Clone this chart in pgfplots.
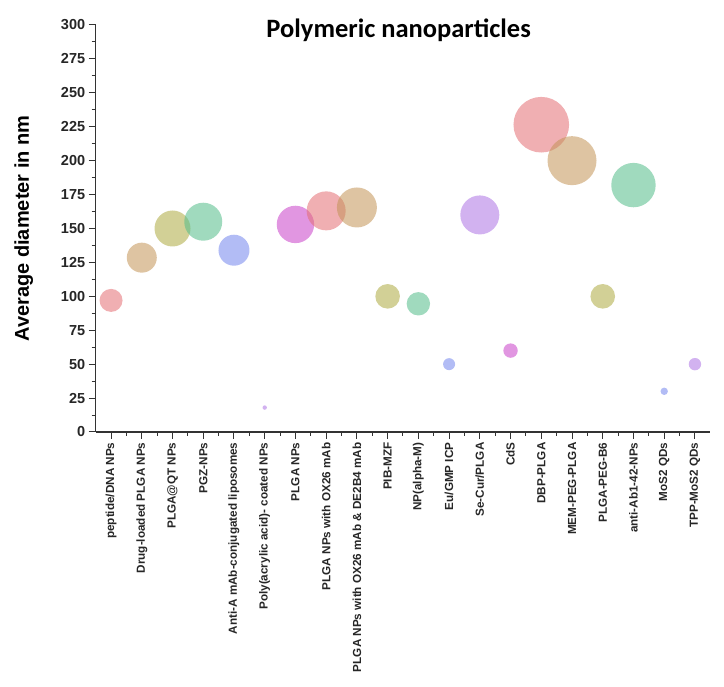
\documentclass[border=0pt]{standalone}
\usepackage{pgfplots}
\pgfplotsset{compat=1.18}
\usepackage{fontspec}
\setmainfont{Liberation Sans}
\newfontfamily\titlefont{Carlito}
\definecolor{bred}{RGB}{228,109,115}
\definecolor{btan}{RGB}{195,148,86}
\definecolor{bolive}{RGB}{173,170,64}
\definecolor{bgreen}{RGB}{82,188,137}
\definecolor{bblue}{RGB}{115,133,237}
\definecolor{bpurple}{RGB}{173,115,228}
\definecolor{bmagenta}{RGB}{200,64,200}
\pgfplotsset{bub/.style 2 args={only marks, mark=*, mark size=#2pt,
  mark options={fill=#1, draw=#1, draw opacity=0, fill opacity=0.55, line width=0pt}}}
\begin{document}
\begin{tikzpicture}
\begin{axis}[
  scale only axis, width=614.6pt, height=407pt,
  xmin=-0.5, xmax=19.5, ymin=0, ymax=300,
  axis lines=left, axis line style={-, line width=1.1pt, black!80},
  xtick={0,...,19},
  xticklabels={peptide/DNA NPs, Drug-loaded PLGA NPs, PLGA@QT NPs, PGZ-NPs,
    Anti-A mAb-conjugated liposomes, Poly(acrylic acid)- coated NPs, PLGA NPs,
    PLGA NPs with OX26 mAb, PLGA NPs with OX26 mAb \& DE2B4 mAb, PIB-MZF,
    NP(alpha-M), Eu/GMP ICP, Se-Cur/PLGA, CdS, DBP-PLGA, MEM-PEG-PLGA,
    PLGA-PEG-B6, anti-Ab1-42-NPs, MoS2 QDs, TPP-MoS2 QDs},
  minor x tick num=1,
  ytick={0,25,...,300}, minor y tick num=1,
  tick align=outside, major tick length=7pt, minor tick length=4pt,
  tick style={line width=1pt, black!80},
  xticklabel style={rotate=90, anchor=east, font=\bfseries\fontsize{11.7}{13}\selectfont, text=black!85},
  yticklabel style={font=\bfseries\fontsize{14.5}{17}\selectfont, text=black!85},
  /pgf/number format/assume math mode=true,
  ylabel={Average diameter in nm},
  ylabel style={at={(axis description cs:-0.117,0.5)}, anchor=center, font=\bfseries\fontsize{20}{24}\selectfont},
  clip=false,
]
\addplot[bub={bred}{11.5}] coordinates {(0,97)};
\addplot[bub={btan}{15}] coordinates {(1,128.5)};
\addplot[bub={bolive}{18}] coordinates {(2,150)};
\addplot[bub={bgreen}{19}] coordinates {(3,155)};
\addplot[bub={bblue}{15.5}] coordinates {(4,134)};
\addplot[bub={bpurple}{2.2}] coordinates {(5,18)};
\addplot[bub={bmagenta}{18.7}] coordinates {(6,153)};
\addplot[bub={bred}{19.5}] coordinates {(7,163)};
\addplot[bub={btan}{20}] coordinates {(8,165.5)};
\addplot[bub={bolive}{12.3}] coordinates {(9,100)};
\addplot[bub={bgreen}{11.7}] coordinates {(10,94.5)};
\addplot[bub={bblue}{6}] coordinates {(11,50)};
\addplot[bub={bpurple}{19.5}] coordinates {(12,160)};
\addplot[bub={bmagenta}{7.2}] coordinates {(13,60)};
\addplot[bub={bred}{27.8}] coordinates {(14,226.5)};
\addplot[bub={btan}{24.5}] coordinates {(15,200)};
\addplot[bub={bolive}{12.3}] coordinates {(16,100)};
\addplot[bub={bgreen}{22.2}] coordinates {(17,182)};
\addplot[bub={bblue}{3.7}] coordinates {(18,30)};
\addplot[bub={bpurple}{6.2}] coordinates {(19,50)};
\node[font=\titlefont\bfseries\fontsize{26.5}{30}\selectfont, anchor=center]
  at (axis description cs:0.493,0.988) {Polymeric nanoparticles};
\end{axis}
\path (-95.7pt,432pt) rectangle (628.3pt,-255pt);
\end{tikzpicture}
\end{document}
